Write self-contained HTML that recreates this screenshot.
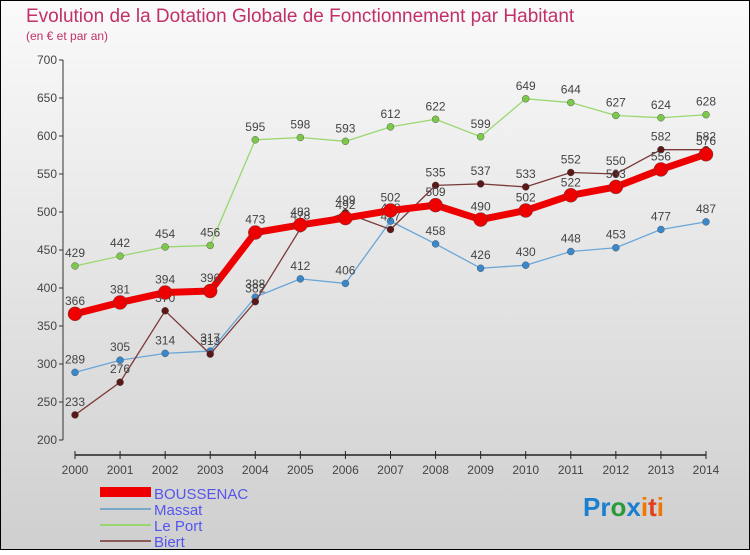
<!DOCTYPE html>
<html><head><meta charset="utf-8"><style>
body{margin:0;width:750px;height:550px;overflow:hidden;font-family:"Liberation Sans",sans-serif}
</style></head><body>
<svg width="750" height="550" xmlns="http://www.w3.org/2000/svg">
<defs><linearGradient id="bg" x1="0" y1="0" x2="0" y2="1"><stop offset="0" stop-color="#fafafa"/><stop offset="1" stop-color="#cfcfcf"/></linearGradient></defs>
<rect x="0.5" y="0.5" width="749" height="549" fill="url(#bg)" stroke="#000"/>
<text x="26" y="22" font-size="19" fill="#c0306a">Evolution de la Dotation Globale de Fonctionnement par Habitant</text>
<text x="26" y="40" font-size="12" fill="#c0306a">(en € et par an)</text>
<g id="axes"></g><g id="series"></g>
<g>
<rect x="100" y="487" width="51" height="10" fill="#e00"/>
<line x1="100" y1="509" x2="151" y2="509" stroke="#7ba7c9" stroke-width="2"/>
<line x1="100" y1="525" x2="151" y2="525" stroke="#99d86f" stroke-width="2"/>
<line x1="100" y1="541" x2="151" y2="541" stroke="#8b5a5a" stroke-width="2"/>
<g font-size="15" fill="#5555ee">
<text x="154" y="499">BOUSSENAC</text>
<text x="154" y="515">Massat</text>
<text x="154" y="531">Le Port</text>
<text x="154" y="547">Biert</text></g></g>
<text x="583" y="516" font-size="26" font-weight="bold"><tspan fill="#1a7fd0">Pr</tspan><tspan fill="#2a9a3a">o</tspan><tspan fill="#1a7fd0">x</tspan><tspan fill="#f07800">i</tspan><tspan fill="#e04020">t</tspan><tspan fill="#f07800">i</tspan></text>
</svg>
<script>
const years=[2000,2001,2002,2003,2004,2005,2006,2007,2008,2009,2010,2011,2012,2013,2014];
const yTicks=[200,250,300,350,400,450,500,550,600,650,700];
const boussenac=[366,381,394,396,473,483,492,502,509,490,502,522,533,556,576];
const massat=[289,305,314,317,388,412,406,488,458,426,430,448,453,477,487];
const lePort=[429,442,454,456,595,598,593,612,622,599,649,644,627,624,628];
const biert=[233,276,370,313,382,478,499,477,535,537,533,552,550,582,582];
const NS="http://www.w3.org/2000/svg";
const X=i=>75+i*(706-75)/14, Y=v=>440-(v-200)*0.76;
function mk(t,a,p){const e=document.createElementNS(NS,t);for(const k in a)e.setAttribute(k,a[k]);p.appendChild(e);return e;}
const ax=document.getElementById('axes');
let e=mk('line',{x1:63,y1:60,x2:63,y2:440,stroke:'#333'},ax);


e=mk('line',{x1:75,y1:455,x2:706,y2:455,stroke:'#222','stroke-width':1.5},ax);


yTicks.forEach(v=>{const t=mk('text',{x:57,y:Y(v)+4,'font-size':12,fill:'#444','text-anchor':'end'},ax);t.textContent=v;


mk('line',{x1:59,y1:Y(v),x2:63,y2:Y(v),stroke:'#333'},ax);});
years.forEach((y,i)=>{mk('line',{x1:X(i),y1:451,x2:X(i),y2:459,stroke:'#222'},ax);
const t=mk('text',{x:X(i),y:474,'font-size':12,fill:'#444','text-anchor':'middle'},ax);t.textContent=y;

});
const sg=document.getElementById('series');
function draw(data,name,color,w,r,dot){
const g=mk('g',{},sg);


const pl=mk('polyline',{points:data.map((v,i)=>X(i)+','+Y(v)).join(' '),fill:'none',stroke:color,'stroke-width':w,'stroke-linejoin':'round'},g);


data.forEach((v,i)=>{const c=mk('circle',{cx:X(i),cy:Y(v),r:r,fill:dot,stroke:'#444','stroke-width':0.4},g);


const t=mk('text',{x:X(i),y:Y(v)-9,'font-size':12,fill:'#444','text-anchor':'middle'},g);t.textContent=v;

});}
draw(lePort,'le-port','#99d86f',1.3,3.5,'#7cc84a');
draw(massat,'massat','#6aa6d8',1.3,3.5,'#3a88cc');
draw(biert,'biert','#7a3a3a',1.3,3.5,'#5a1818');
draw(boussenac,'boussenac','#ee0000',7,7,'#ee0000');
</script>
</body></html>
